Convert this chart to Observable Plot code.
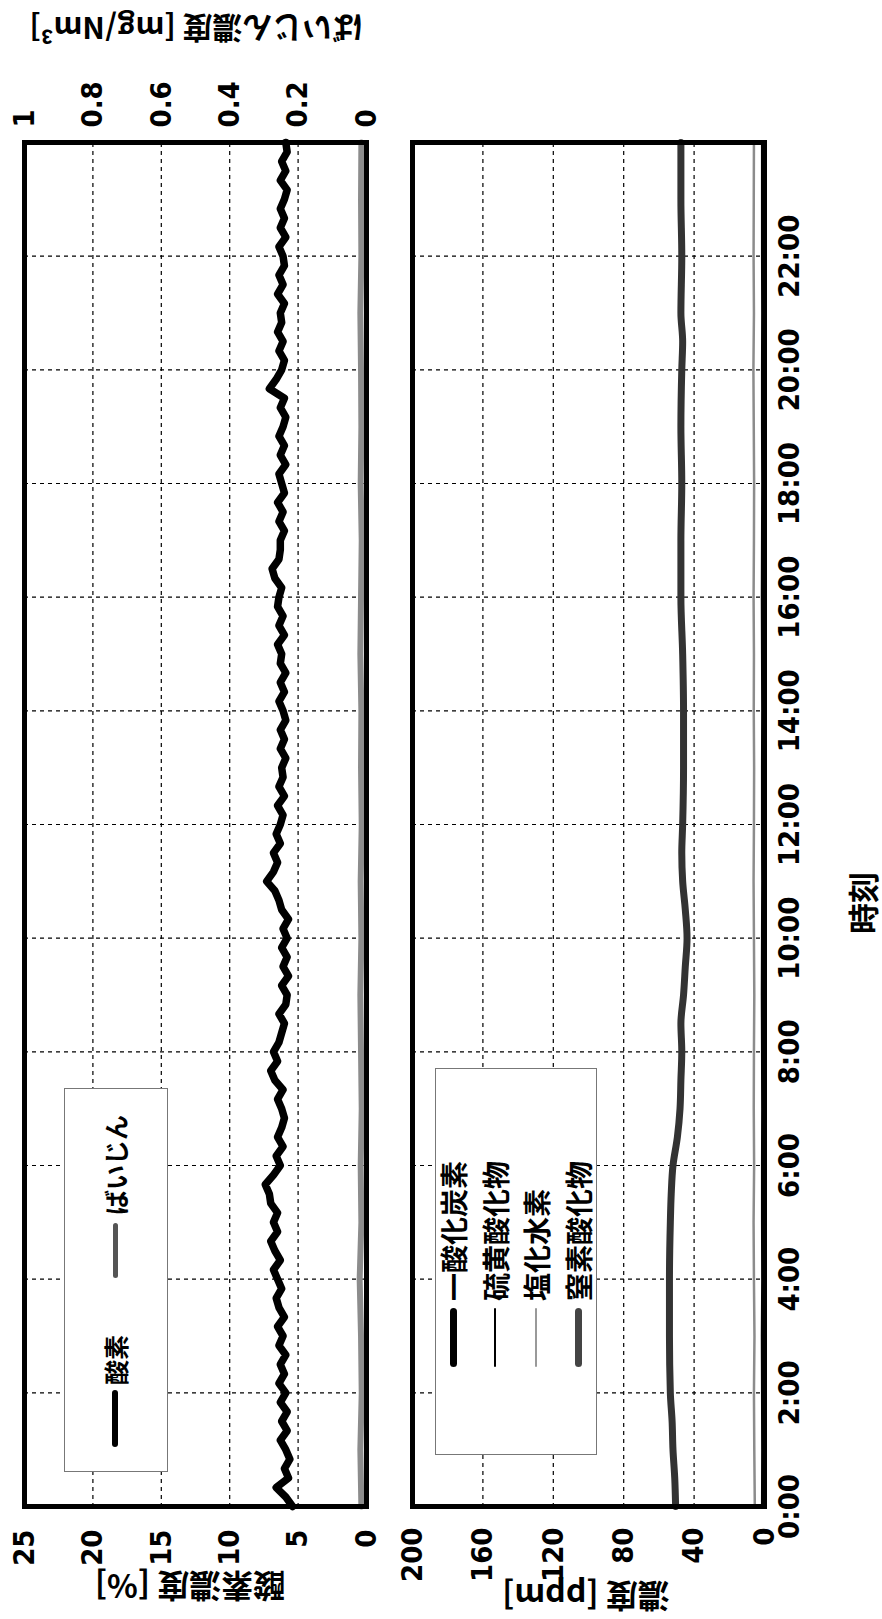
<!DOCTYPE html>
<html><head><meta charset="utf-8">
<script src="https://cdn.jsdelivr.net/npm/d3@7"></script>
<script src="https://cdn.jsdelivr.net/npm/@observablehq/plot@0.6"></script>
<style>
html,body{margin:0;padding:0;background:#fff;width:882px;height:1619px;overflow:hidden;}
#fig{position:absolute;left:0;top:0;width:1619px;height:882px;transform-origin:0 0;transform:translate(0,1619px) rotate(-90deg);background:#fff;}
#fig svg{position:absolute;left:0;overflow:visible;}
.t{position:absolute;white-space:nowrap;font-family:"Noto Sans CJK JP",sans-serif;font-weight:700;color:#000;line-height:1;}
.rot{transform:translate(-50%,-50%) rotate(-90deg);}
.ctr{transform:translate(-50%,-50%);}
.legend{position:absolute;border:1.5px solid #777;background:#fff;box-sizing:border-box;}
.sw{position:absolute;border-radius:4px;}
.lt{position:absolute;white-space:nowrap;font-family:"Noto Sans CJK JP",sans-serif;font-weight:700;line-height:1;color:#000;transform:translateY(-50%);}
</style></head><body><div id="fig"></div>
<script>
// ---------- data ----------
const timeTicks = [0, 2, 4, 6, 8, 10, 12, 14, 16, 18, 20, 22];
const timeTickLabels = ["0:00","2:00","4:00","6:00","8:00","10:00","12:00","14:00","16:00","18:00","20:00","22:00"];
const o2Ticks = [0, 5, 10, 15, 20, 25];
const dustTickLabels = ["0", "0.2", "0.4", "0.6", "0.8", "1"];
const ppmTicks = [0, 40, 80, 120, 160, 200];

// oxygen [%], every 10 minutes from 0:00 to 24:00
const o2Values = [
  5.4, 5.9, 6.6, 5.7, 6.0, 5.6,
  5.9, 6.3, 5.8, 6.2, 5.8, 6.3,
  5.9, 6.4, 6.0, 6.3, 5.9, 6.4,
  6.1, 6.5, 6.0, 6.4, 6.6, 6.2,
  6.5, 6.8, 6.3, 6.7, 7.0, 6.5,
  6.8, 6.5, 7.0, 7.1, 7.4, 6.8,
  6.3, 6.6, 6.1, 6.5, 6.2, 6.0,
  6.2, 6.5, 6.1, 6.7, 7.0, 6.5,
  6.8, 6.4, 6.2, 6.0, 6.4, 5.9,
  5.8, 6.2, 5.7, 6.1, 5.8, 6.2,
  5.8, 6.1, 5.7, 6.2, 6.4, 6.7,
  7.3, 6.8, 6.5, 6.8, 6.3, 6.6,
  6.3, 6.1, 6.5, 6.0, 6.4, 6.1,
  6.2, 5.9, 6.3, 6.0, 6.3, 5.9,
  6.1, 6.4, 6.0, 6.3, 5.9, 6.3,
  6.2, 6.5, 6.0, 6.4, 6.1, 6.5,
  6.4, 6.2, 6.7, 6.9, 6.4, 6.3,
  6.3, 6.0, 6.4, 6.1, 6.5, 6.0,
  6.2, 6.4, 5.9, 6.3, 6.0, 6.4,
  6.1, 5.9, 6.3, 6.0, 7.1, 6.6,
  6.2, 6.0, 6.4, 6.1, 6.5, 6.2,
  6.3, 6.0, 6.5, 6.1, 6.4, 6.0,
  6.1, 6.4, 5.9, 6.3, 6.0, 6.3,
  6.0, 5.8, 6.3, 5.9, 6.2, 5.8,
  5.9
];
// dust [mg/Nm3], hourly
const dustValues = [0.015,0.018,0.014,0.016,0.020,0.015,0.017,0.014,0.016,0.018,0.015,0.017,0.014,0.016,0.015,0.018,0.016,0.014,0.017,0.015,0.016,0.018,0.015,0.016,0.015];
const hourly = [0,1,2,3,4,5,6,7,8,9,10,11,12,13,14,15,16,17,18,19,20,21,22,23,24];

// bottom panel [ppm]
const noxTimes  = [0,0.5,1,1.5,2,3,4,5,5.5,6,6.5,7,7.5,8,8.5,9,9.5,10,10.5,11,11.5,12,13,14,15,16,17,18,19,20,20.5,21,22,23,24];
const noxValues = [50.5,51,52,52.5,53.5,54,54,53.5,53,52,49.5,48,47.5,47,47.5,46,45,44,45,46.5,47,46.5,46,46,46.5,47.5,47.5,47,47.5,47,46.5,47.5,47,47.5,47.5];
const hclValues = [5.5,5.8,6.0,5.7,6.0,6.2,5.9,6.1,6.0,5.8,6.0,6.2,6.0,5.9,6.1,6.0,6.2,6.0,5.9,6.1,6.3,6.0,6.2,6.1,6.0];
const coValues  = [0.6,0.5,0.6,0.7,0.5,0.6,0.6,0.5,0.6,0.7,0.6,0.5,0.6,0.6,0.5,0.6,0.7,0.6,0.5,0.6,0.6,0.5,0.6,0.6,0.6];
const soxValues = [0.3,0.3,0.4,0.3,0.3,0.3,0.4,0.3,0.3,0.3,0.3,0.4,0.3,0.3,0.3,0.3,0.4,0.3,0.3,0.3,0.3,0.3,0.4,0.3,0.3];

const legend1Names = ["酸素", "ばいじん"];
const legend2Names = ["一酸化炭素", "硫黄酸化物", "塩化水素", "窒素酸化物"];

// ---------- tables ----------
const o2Data = o2Values.map((v, i) => ({t: i / 6, v}));
const dustData = dustValues.map((v, i) => ({t: hourly[i], v}));
const noxData = noxValues.map((v, i) => ({t: noxTimes[i], v}));
const hclData = hclValues.map((v, i) => ({t: hourly[i], v}));
const coData = coValues.map((v, i) => ({t: hourly[i], v}));
const soxData = soxValues.map((v, i) => ({t: hourly[i], v}));

// ---------- drawing ----------
const W = 1619;
const NUMFONT = "'Liberation Sans Narrow','DejaVu Sans Condensed','Liberation Sans',Arial,sans-serif";
const gridStyle = {stroke: "#000", strokeOpacity: 1, strokeWidth: 1.2, strokeDasharray: "4,4"};
const fig = document.getElementById("fig");
const plotStyle = {fontFamily: NUMFONT, fontSize: "29px", fontWeight: "bold", color: "#000", background: "transparent", overflow: "visible"};

const topPlot = Plot.plot({
  width: W, height: 400,
  marginLeft: 112, marginRight: 143, marginTop: 24, marginBottom: 34,
  x: {domain: [0, 24], axis: null},
  y: {domain: [0, 25]},
  style: plotStyle,
  marks: [
    Plot.gridX(timeTicks.filter(t => t > 0), gridStyle),
    Plot.gridY(o2Ticks.filter(t => t > 0 && t < 25), gridStyle),
    Plot.line(dustData, {x: "t", y: d => d.v * 25, stroke: "#8c8c8c", strokeWidth: 6}),
    Plot.line(o2Data, {x: "t", y: "v", stroke: "#000", strokeWidth: 7.5, strokeLinejoin: "round"}),
    Plot.axisY(o2Ticks, {anchor: "left", tickSize: 0, tickPadding: 23, label: null}),
    Plot.axisY(o2Ticks, {anchor: "right", tickSize: 0, tickPadding: 15, label: null,
      tickFormat: d => dustTickLabels[o2Ticks.indexOf(d)]}),
    Plot.frame({stroke: "#000", strokeWidth: 5})
  ]
});
topPlot.style.top = "0px";
fig.appendChild(topPlot);

const botPlot = Plot.plot({
  width: W, height: 482,
  marginLeft: 112, marginRight: 143, marginTop: 12, marginBottom: 118,
  x: {domain: [0, 24]},
  y: {domain: [0, 200]},
  style: plotStyle,
  marks: [
    Plot.gridX(timeTicks.filter(t => t > 0), gridStyle),
    Plot.gridY(ppmTicks.filter(t => t > 0 && t < 200), gridStyle),
    Plot.line(soxData, {x: "t", y: "v", stroke: "#000", strokeWidth: 2.5}),
    Plot.line(coData, {x: "t", y: "v", stroke: "#000", strokeWidth: 5}),
    Plot.line(hclData, {x: "t", y: "v", stroke: "#8c8c8c", strokeWidth: 2.5}),
    Plot.line(noxData, {x: "t", y: "v", stroke: "#333", strokeWidth: 7, curve: "monotone-x"}),
    Plot.axisY(ppmTicks, {anchor: "left", tickSize: 0, tickPadding: 21, label: null}),
    Plot.axisX(timeTicks, {anchor: "bottom", tickSize: 0, tickPadding: 14, label: null,
      tickFormat: d => timeTickLabels[timeTicks.indexOf(d)]}),
    Plot.frame({stroke: "#000", strokeWidth: 5})
  ]
});
botPlot.style.top = "400px";
fig.appendChild(botPlot);

// ---------- titles ----------
function addText(txt, x, y, size, cls) {
  const d = document.createElement("div");
  d.className = "t " + cls;
  d.textContent = txt;
  d.style.left = x + "px"; d.style.top = y + "px"; d.style.fontSize = size + "px";
  fig.appendChild(d);
}
addText("酸素濃度 [%]", 31, 190, 32, "rot");
addText("濃度 [ppm]", 21, 586, 32, "rot");
addText("ばいじん濃度 [mg/Nm³]", 1589, 196, 30, "rot");
addText("時刻", 716, 861, 31, "ctr");

// ---------- legends ----------
function addLegend(box, items) {
  const b = document.createElement("div");
  b.className = "legend";
  Object.assign(b.style, {left: box[0] + "px", top: box[1] + "px", width: box[2] + "px", height: box[3] + "px"});
  fig.appendChild(b);
  items.forEach(it => {
    const s = document.createElement("div");
    s.className = "sw";
    Object.assign(s.style, {left: it.lx + "px", top: (it.y - it.h / 2) + "px", width: it.lw + "px", height: it.h + "px", background: it.c});
    fig.appendChild(s);
    const t = document.createElement("div");
    t.className = "lt";
    t.textContent = it.name;
    Object.assign(t.style, {left: it.tx + "px", top: it.y + "px", fontSize: it.fs + "px"});
    fig.appendChild(t);
  });
}
addLegend([147, 64, 384, 104], [
  {name: legend1Names[0], lx: 172, lw: 57, y: 115, h: 6, c: "#000", tx: 234, fs: 25},
  {name: legend1Names[1], lx: 341, lw: 55, y: 115, h: 5, c: "#555", tx: 404, fs: 25}
]);
const rowY = [453, 495, 536, 578];
const swH = [7, 2.5, 2.5, 7];
const swC = ["#000", "#000", "#999", "#444"];
addLegend([164, 435, 387, 162], legend2Names.map((n, i) => (
  {name: n, lx: 252, lw: 59, y: rowY[i], h: swH[i], c: swC[i], tx: 318, fs: 28}
)));
</script></body></html>
